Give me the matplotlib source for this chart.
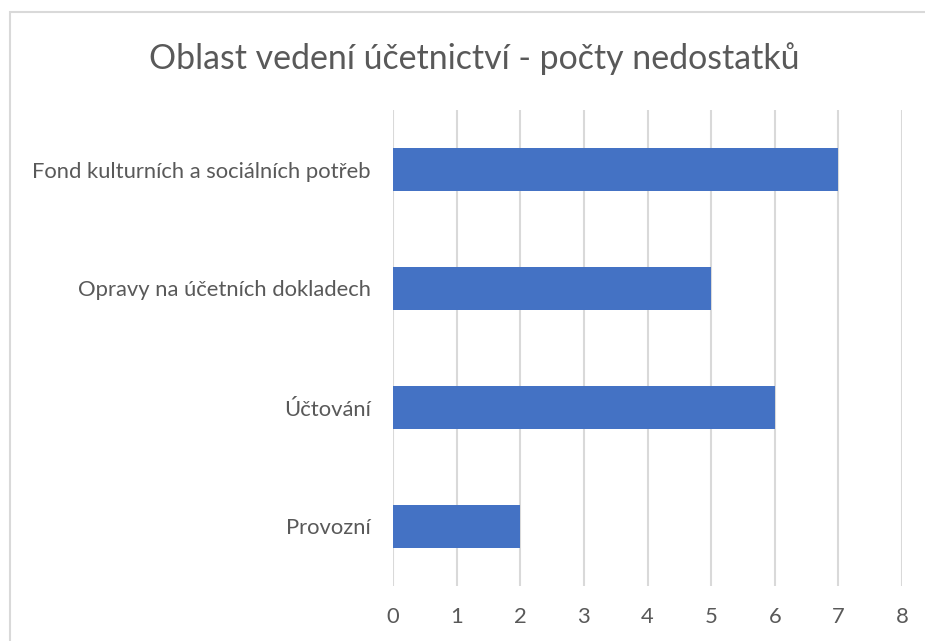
import matplotlib
matplotlib.use("Agg")
import matplotlib.pyplot as plt
from matplotlib.patches import Rectangle

categories = ["Fond kulturních a sociálních potřeb", "Opravy na účetních dokladech", "Účtování", "Provozní"]
values = [7, 5, 6, 2]
ticks = [0, 1, 2, 3, 4, 5, 6, 7, 8]
title = "Oblast vedení účetnictví - počty nedostatků"

plt.rcParams['font.family'] = ['Lato', 'DejaVu Sans']
W, H = 925, 641
fig = plt.figure(figsize=(W/100, H/100), dpi=100)
fig.patches.append(Rectangle((10/W, -0.1), 1.2, 1 - 12/H + 0.1, transform=fig.transFigure,
                             fill=False, edgecolor="#D9D9D9", linewidth=1.5))
ax = fig.add_axes([393/W, 1 - 586/H, (902-393)/W, (586-110)/H])
ypos = list(range(len(categories)))[::-1]
ax.barh(ypos, values, height=0.355, color="#4472C4", zorder=3)
ax.set_ylim(-0.5, len(categories) - 0.5)
ax.set_xlim(0, 8)
ax.set_xticks(ticks)
ax.set_xticklabels([str(t) for t in ticks])
ax.set_yticks(ypos)
ax.set_yticklabels(categories)
ax.grid(axis="x", color="#D9D9D9", linewidth=1.5, zorder=0)
for s in ax.spines.values():
    s.set_visible(False)
ax.tick_params(axis="both", length=0, colors="#595959", labelsize=15.8)
ax.tick_params(axis="x", pad=15)
ax.tick_params(axis="y", pad=16)
fig.text(474/W, 1 - 59/H, title, ha="center", va="center", fontsize=24.4, color="#595959")
fig.savefig("out.png", dpi=100)
